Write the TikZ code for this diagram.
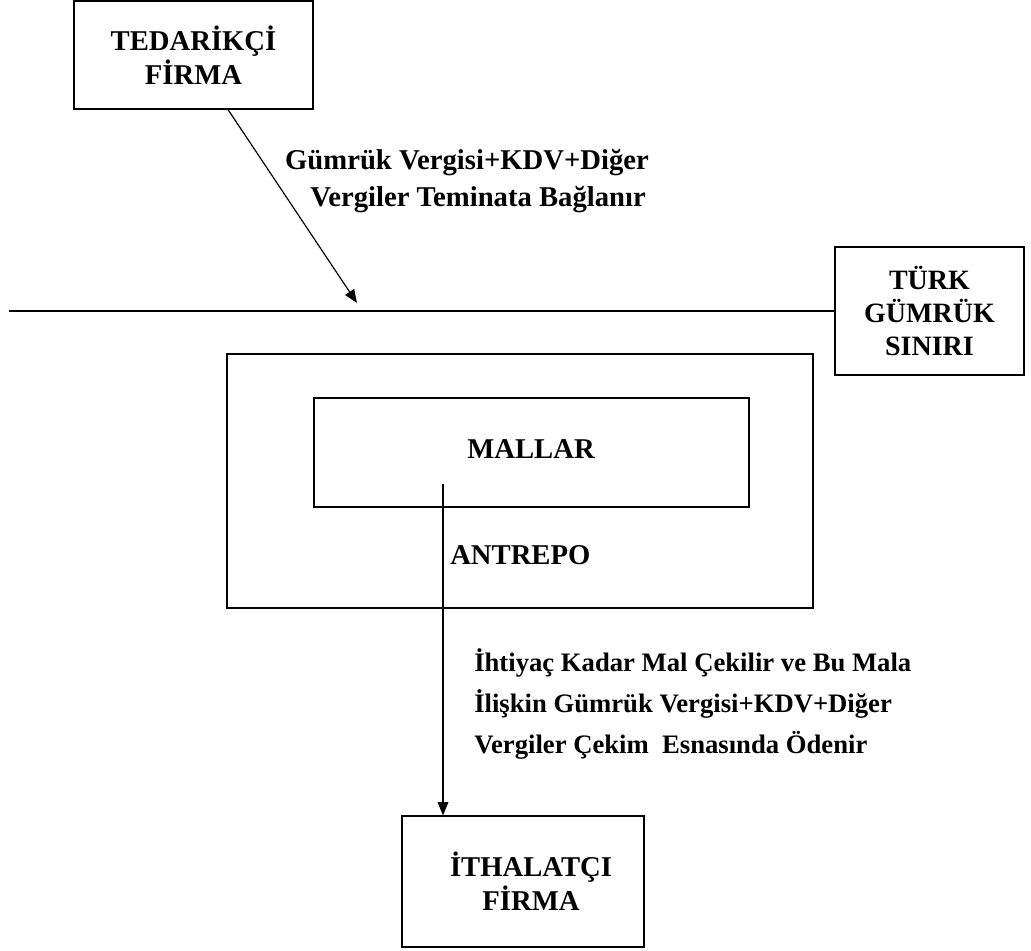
\documentclass[tikz,border=0pt]{standalone}
\usepackage{fontspec}
\setmainfont{Liberation Serif}
\usetikzlibrary{arrows.meta}
\begin{document}
\begin{tikzpicture}[x=0.75pt,y=-0.75pt,
  box/.style={draw, line width=0.9pt, inner sep=0pt, align=center,
    font=\bfseries\fontsize{21.5}{25.5}\selectfont},
  lbl/.style={inner sep=0pt, align=center, font=\bfseries\fontsize{21.5}{25.5}\selectfont},
  conn/.style={line width=0.9pt, -{Triangle[length=10pt,width=8pt]}}]
\useasboundingbox (0,0) rectangle (1031,950);
% boxes
\node[box, minimum width=179.25pt, minimum height=81pt] (sup) at (193.5,55) {TEDARİKÇİ\\FİRMA};
\node[box, minimum width=141.75pt, minimum height=96pt, font=\bfseries\fontsize{21}{25}\selectfont] (border) at (929.5,311) {TÜRK\\GÜMRÜK\\SINIRI};
\node[box, minimum width=439.5pt, minimum height=190.5pt] (antrepo) at (520,481) {};
\node[box, minimum width=326.25pt, minimum height=81.75pt] (goods) at (531.5,452.5) {};
\node[lbl] (goodsT) at (531,449) {MALLAR};
\node[box, minimum width=181.5pt, minimum height=98.25pt] (imp) at (523,881.5) {};
\node[lbl] (impT) at (531,881) {İTHALATÇI\\FİRMA};
% border line
\coordinate (lineL) at (9,311);
\draw[line width=0.9pt] (lineL) -- (border.west);
% arrow 1
\coordinate (tip1) at (357,303);
\draw[conn] ([xshift=25.9pt]sup.south) -- (tip1);
\node[lbl] (t1) at (467,163) {Gümrük Vergisi+KDV+Diğer};
\node[lbl] (t2) at (478,200) {Vergiler Teminata Bağlanır};
% antrepo label
\node[lbl, anchor=west] (alab) at (450,555) {ANTREPO};
% arrow 2
\coordinate (s2) at (443,484);
\draw[conn] (s2) -- (s2 |- imp.north);
\node[lbl, anchor=west, align=left, font=\bfseries\fontsize{20}{30.75}\selectfont] (t3) at (474,704)
  {İhtiyaç Kadar Mal Çekilir ve Bu Mala\\İlişkin Gümrük Vergisi+KDV+Diğer\\Vergiler Çekim\ \ Esnasında Ödenir};
\end{tikzpicture}
\end{document}
